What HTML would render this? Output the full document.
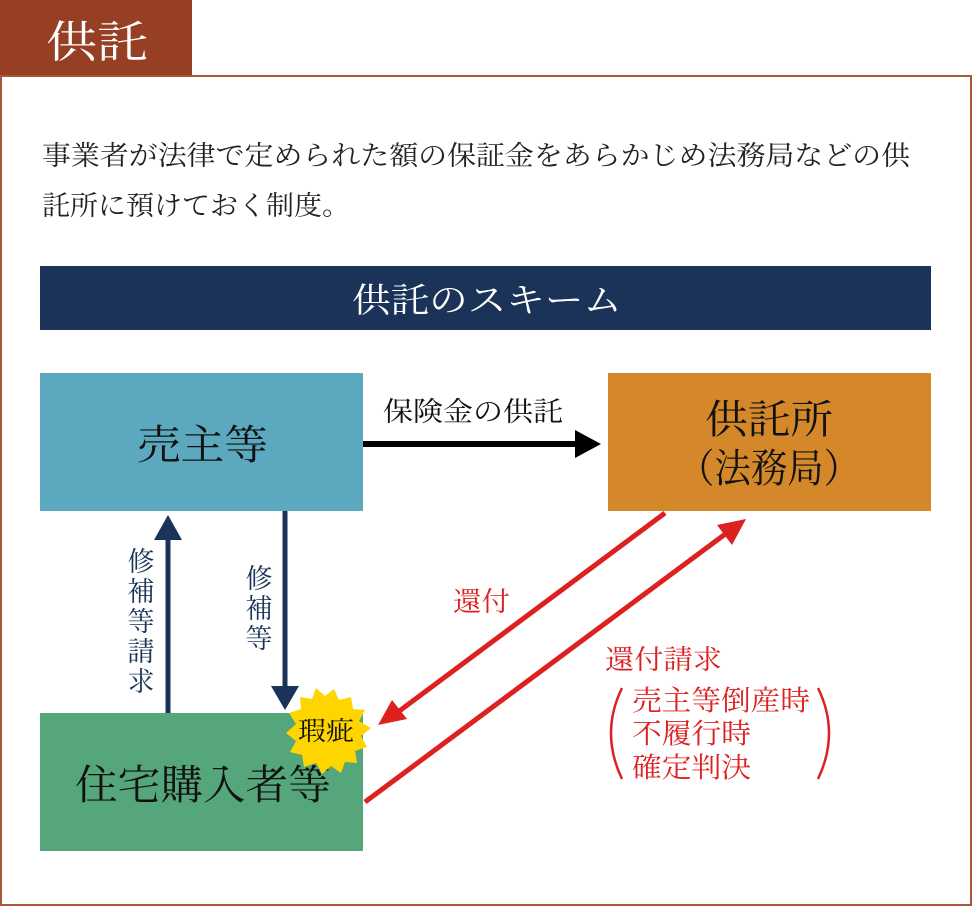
<!DOCTYPE html>
<html><head><meta charset="utf-8"><style>
html,body{margin:0;padding:0;background:#fff;}
svg{display:block;}
text{font-family:"Liberation Serif","Noto Serif CJK JP","Noto Serif CJK SC",serif;}
</style></head><body>
<svg width="972" height="906" viewBox="0 0 972 906" xmlns="http://www.w3.org/2000/svg">
<rect x="0" y="0" width="192" height="75" fill="#973f24"/>
<text x="46" y="57" font-size="44" fill="#fff" textLength="102" lengthAdjust="spacingAndGlyphs">供託</text>
<rect x="1" y="76" width="970" height="829" fill="none" stroke="#a8573b" stroke-width="2"/>
<text x="42" y="165" font-size="27" fill="#222" textLength="868" lengthAdjust="spacingAndGlyphs">事業者が法律で定められた額の保証金をあらかじめ法務局などの供</text>
<text x="42" y="215" font-size="27" fill="#222" textLength="308" lengthAdjust="spacingAndGlyphs">託所に預けておく制度。</text>
<rect x="40" y="266" width="891" height="64" fill="#1b3358"/>
<text x="352" y="312" font-size="34" fill="#fff" textLength="270" lengthAdjust="spacingAndGlyphs">供託のスキーム</text>
<rect x="40" y="373" width="323" height="138" fill="#5ba8bf"/>
<text x="137" y="459" font-size="41" fill="#111" textLength="131" lengthAdjust="spacingAndGlyphs">売主等</text>
<rect x="608" y="373" width="323" height="138" fill="#d4882a"/>
<text x="705" y="433" font-size="40" fill="#111" textLength="128" lengthAdjust="spacingAndGlyphs">供託所</text>
<text x="678" y="482" font-size="40" fill="#111" textLength="182" lengthAdjust="spacingAndGlyphs">（法務局）</text>
<rect x="40" y="713" width="323" height="138" fill="#55a67a"/>
<text x="75" y="799" font-size="41" fill="#111" textLength="256" lengthAdjust="spacingAndGlyphs">住宅購入者等</text>
<line x1="363" y1="444" x2="578" y2="444" stroke="#000" stroke-width="6"/>
<polygon points="575,430 601,444 575,458" fill="#000"/>
<text x="383" y="421" font-size="27" fill="#111" textLength="180" lengthAdjust="spacingAndGlyphs">保険金の供託</text>
<line x1="168" y1="713" x2="168" y2="538" stroke="#1b3358" stroke-width="5"/>
<polygon points="154,540 168,515 182,540" fill="#1b3358"/>
<line x1="285" y1="511" x2="285" y2="688" stroke="#1b3358" stroke-width="5"/>
<polygon points="271,686 285,710 299,686" fill="#1b3358"/>
<g font-size="27" fill="#1b3358" text-anchor="middle">
<text x="141" y="571">修</text><text x="141" y="601">補</text><text x="141" y="631">等</text><text x="141" y="661">請</text><text x="141" y="691">求</text>
<text x="259" y="588">修</text><text x="259" y="618">補</text><text x="259" y="648">等</text>
</g>
<line x1="665" y1="513" x2="398" y2="712" stroke="#dd2020" stroke-width="5"/>
<polygon points="378,725 392,700 407,719" fill="#dd2020"/>
<line x1="365" y1="802" x2="728" y2="532" stroke="#dd2020" stroke-width="5"/>
<polygon points="746,519 732,545 717,525" fill="#dd2020"/>
<text x="453" y="611" font-size="27" fill="#dd2020" textLength="57" lengthAdjust="spacingAndGlyphs">還付</text>
<text x="605" y="669" font-size="27" fill="#dd2020" textLength="117" lengthAdjust="spacingAndGlyphs">還付請求</text>
<g font-size="28" fill="#dd2020">
<text x="632" y="710" textLength="178" lengthAdjust="spacingAndGlyphs">売主等倒産時</text>
<text x="632" y="743" textLength="119" lengthAdjust="spacingAndGlyphs">不履行時</text>
<text x="632" y="777" textLength="119" lengthAdjust="spacingAndGlyphs">確定判決</text>
</g>
<path d="M622,688 Q600,733 622,779" fill="none" stroke="#dd2020" stroke-width="2.5"/>
<path d="M818,688 Q840,733 818,779" fill="none" stroke="#dd2020" stroke-width="2.5"/>
<polygon fill="#ffd500" points="
371,728 361,736 367,747 355,751 357,763 345,762 341,773 331,766 322,774 316,763 304,767 302,755 290,752 296,741 286,733 296,724 289,713 301,709 300,697 312,699 316,688 325,696 334,689 339,700 351,697 353,709 365,710 359,721"/>
<text x="298" y="740" font-size="26" fill="#111" textLength="56" lengthAdjust="spacingAndGlyphs">瑕疵</text>
</svg>
</body></html>
